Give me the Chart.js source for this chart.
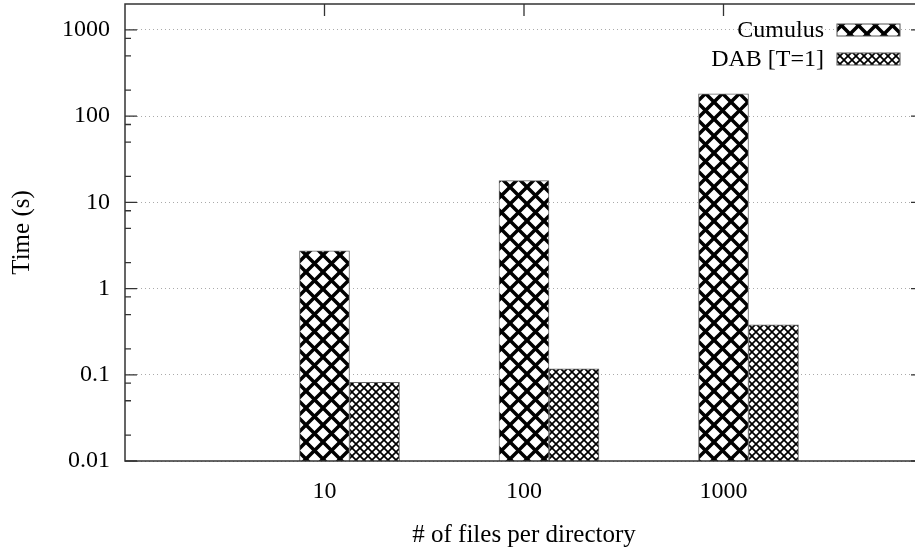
<!DOCTYPE html>
<html>
<head>
<meta charset="utf-8">
<script src="https://cdn.jsdelivr.net/npm/chart.js@4/dist/chart.umd.min.js"></script>
<style>
  html, body { margin: 0; padding: 0; background: #fff; overflow: hidden; }
  #wrap { width: 930px; height: 555px; }
</style>
</head>
<body>
<div id="wrap"><canvas id="myChart"></canvas></div>
<script>
"use strict";
// Data
const categories = ["10", "100", "1000"];
const cumulusValues = [2.75, 17.9, 181];
const dabValues = [0.082, 0.117, 0.38];
const yTickValues = [0.01, 0.1, 1, 10, 100, 1000];
const yMinorSteps = [2, 5, 8];
const seriesLabels = ["Cumulus", "DAB [T=1]"];

const FONT = "'Liberation Serif', 'DejaVu Serif', serif";

function hatch(period, lineWidth) {
  const c = document.createElement("canvas");
  c.width = period;
  c.height = period;
  const g = c.getContext("2d");
  g.fillStyle = "#fff";
  g.fillRect(0, 0, period, period);
  g.strokeStyle = "#000";
  g.lineWidth = lineWidth;
  for (let k = -1; k <= 1; k++) {
    g.beginPath();
    g.moveTo(-period, -period + k * period);
    g.lineTo(2 * period, 2 * period + k * period);
    g.moveTo(-period, 2 * period + k * period);
    g.lineTo(2 * period, -period + k * period);
    g.stroke();
  }
  return document.createElement("canvas").getContext("2d").createPattern(c, "repeat");
}

const coarse = hatch(17, 3.5);
const fine = hatch(8, 1.7);

// pad the category axis so the plot spans one slot either side
const labels = ["", ...categories, ""];
const pad = (arr) => [null, ...arr, null];

// minor ticks like gnuplot's (2, 5, 8 inside each decade)
const minorTicks = [];
yTickValues.forEach((d) => {
  yMinorSteps.forEach((s) => {
    const v = +(d * s).toPrecision(3);
    if (v < 2000) minorTicks.push(v);
  });
});

const isMajor = (v) => yTickValues.some((t) => Math.abs(t - v) / t < 1e-6);

const noPadding = (scale) => {
  scale.paddingLeft = 0;
  scale.paddingRight = 0;
  scale.paddingTop = 0;
  scale.paddingBottom = 0;
};

// inward tick marks on all four sides, frame on top of the bars
const tickMarks = {
  id: "tickMarks",
  beforeDatasetsDraw(chart) {
    const { ctx, chartArea: a, scales } = chart;
    ctx.save();
    ctx.strokeStyle = "#333";
    ctx.lineWidth = 1.3;
    ctx.beginPath();
    scales.y.ticks.forEach((t) => {
      const py = scales.y.getPixelForValue(t.value);
      const len = isMajor(t.value) ? 12 : 6;
      ctx.moveTo(a.left, py);
      ctx.lineTo(a.left + len, py);
      ctx.moveTo(a.right, py);
      ctx.lineTo(a.right - len, py);
    });
    labels.forEach((l, i) => {
      if (!l) return;
      const px = scales.x.getPixelForValue(i);
      ctx.moveTo(px, a.bottom);
      ctx.lineTo(px, a.bottom - 12);
      ctx.moveTo(px, a.top);
      ctx.lineTo(px, a.top + 12);
    });
    ctx.stroke();
    ctx.restore();
  },
  afterDatasetsDraw(chart) {
    const { ctx, chartArea: a } = chart;
    ctx.save();
    ctx.strokeStyle = "#333";
    ctx.lineWidth = 1.5;
    ctx.strokeRect(a.left, a.top, a.right - a.left, a.bottom - a.top);
    ctx.restore();
  },
};

// key in the top right corner: text, then the sample box
const keyBox = {
  id: "keyBox",
  afterDraw(chart) {
    const { ctx, chartArea: a } = chart;
    const items = chart.data.datasets.filter((d) => d.label);
    ctx.save();
    ctx.font = "24px " + FONT;
    ctx.textAlign = "right";
    ctx.textBaseline = "middle";
    items.forEach((d, i) => {
      const cy = a.top + 26 + i * 29;
      const bx = a.right - 23 - 63;
      ctx.fillStyle = "#000";
      ctx.fillText(d.label, bx - 13, cy + 1);
      ctx.fillStyle = d.backgroundColor;
      ctx.fillRect(bx, cy - 6, 63, 12);
      ctx.strokeStyle = "#555";
      ctx.lineWidth = 1;
      ctx.strokeRect(bx, cy - 6, 63, 12);
    });
    ctx.restore();
  },
};

const ctx = document.getElementById("myChart").getContext("2d");
const myChart = new Chart(ctx, {
  type: "bar",
  data: {
    labels: labels,
    datasets: [
      {
        label: "",
        data: pad(categories.map(() => null)),
      },
      {
        label: seriesLabels[0],
        data: pad(cumulusValues),
        backgroundColor: coarse,
        borderColor: "#666",
        borderWidth: 1,
      },
      {
        label: seriesLabels[1],
        data: pad(dabValues),
        backgroundColor: fine,
        borderColor: "#666",
        borderWidth: 1,
      },
    ],
  },
  options: {
    responsive: true,
    maintainAspectRatio: false,
    animation: false,
    layout: { padding: { top: 4, right: 7, left: 0, bottom: 0 } },
    datasets: { bar: { barThickness: 50, grouped: true } },
    plugins: { legend: { display: false }, tooltip: { enabled: false } },
    scales: {
      x: {
        type: "category",
        offset: false,
        grid: { display: false, drawTicks: false },
        border: { display: false },
        ticks: {
          autoSkip: false,
          maxRotation: 0,
          padding: 16,
          color: "#000",
          font: { family: FONT, size: 24 },
        },
        title: {
          display: true,
          text: "# of files per directory",
          color: "#000",
          font: { family: FONT, size: 25 },
          padding: { bottom: 5 },
        },
        afterFit(scale) {
          scale.height = 94;
          noPadding(scale);
        },
      },
      y: {
        type: "logarithmic",
        min: 0.01,
        max: 2000,
        grid: {
          drawTicks: false,
          lineWidth: 1,
          color: (c) => (isMajor(c.tick.value) ? "#aaa" : "rgba(0,0,0,0)"),
        },
        border: { display: false, dash: [1, 3] },
        afterBuildTicks(scale) {
          scale.ticks = [...yTickValues, ...minorTicks]
            .sort((p, q) => p - q)
            .map((v) => ({ value: v, major: isMajor(v) }));
        },
        ticks: {
          autoSkip: false,
          padding: 15,
          color: "#000",
          font: { family: FONT, size: 24 },
          callback: (v) => (isMajor(v) ? String(v) : ""),
        },
        title: {
          display: true,
          text: "Time (s)",
          color: "#000",
          font: { family: FONT, size: 25 },
          padding: { top: 7 },
        },
        afterFit(scale) {
          scale.width = 125;
          noPadding(scale);
        },
      },
    },
  },
  plugins: [tickMarks, keyBox],
});
</script>
</body>
</html>
